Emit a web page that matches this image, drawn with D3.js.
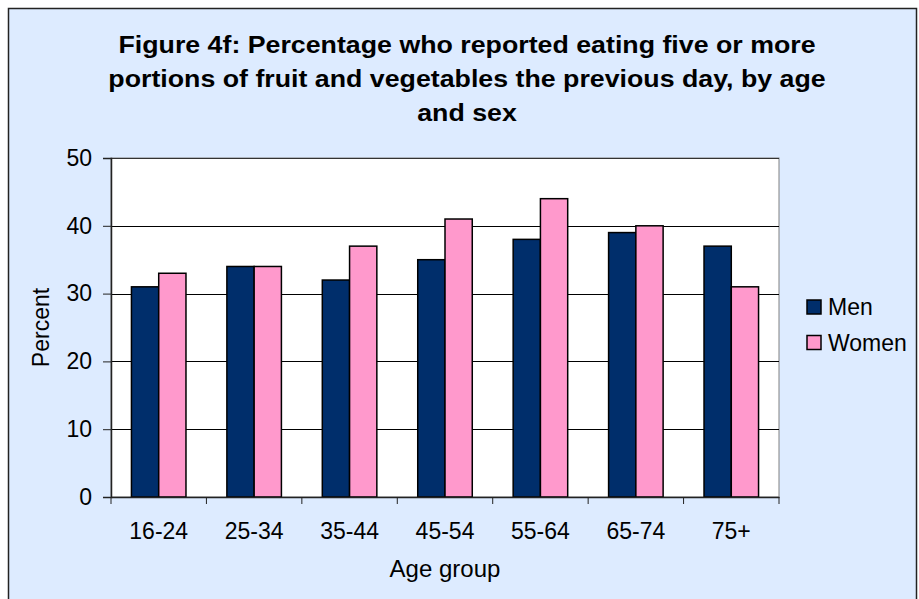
<!DOCTYPE html>
<html lang="en">
<head>
<meta charset="UTF-8">
<title>Figure 4f</title>
<script src="https://cdnjs.cloudflare.com/ajax/libs/d3/7.8.5/d3.min.js"></script>
<style>
  html, body { margin: 0; padding: 0; background: #fff; }
  svg { display: block; font-family: "Liberation Sans", Arial, sans-serif; }
</style>
</head>
<body>
<svg width="919" height="599"></svg>
<script>
    // data
    const ageGroups = ["16-24", "25-34", "35-44", "45-54", "55-64", "65-74", "75+"];
    const seriesNames = ["Men", "Women"];
    const men = [31, 34, 32, 35, 38, 39, 37];
    const women = [33, 34, 37, 41, 44, 40, 31];
    const yTicks = [0, 10, 20, 30, 40, 50];
    const titleLines = [
        "Figure 4f: Percentage who reported eating five or more",
        "portions of fruit and vegetables the previous day, by age",
        "and sex"
    ];

    const colors = { Men: "#002E6B", Women: "#FF99CC" };

    const svg = d3.select("svg");
    const plot = { left: 111, right: 779, top: 158, bottom: 497 };

    // chart background + border
    svg.append("rect")
        .attr("x", 8.5).attr("y", 8.5)
        .attr("width", 908).attr("height", 620)
        .attr("fill", "#DDEBFF")
        .attr("stroke", "#222").attr("stroke-width", 1.5);

    // title (source text is a bit wider than Liberation, so stretch it horizontally)
    const titleX = 467;
    svg.append("g")
        .attr("transform", `translate(${titleX},0) scale(1.115,1)`)
        .selectAll("text")
        .data(titleLines)
        .enter().append("text")
        .attr("x", 0)
        .attr("y", (d, i) => 53 + i * 34)
        .attr("text-anchor", "middle")
        .attr("font-size", 24)
        .attr("font-weight", "bold")
        .text(d => d);

    const x = d3.scaleBand()
        .domain(ageGroups)
        .range([plot.left, plot.right]);

    const inner = d3.scaleBand()
        .domain(seriesNames)
        .range([0, x.bandwidth()])
        .paddingInner(0)
        .paddingOuter(0.75);

    const y = d3.scaleLinear()
        .domain([0, 50])
        .range([plot.bottom, plot.top]);

    // plot area
    svg.append("rect")
        .attr("x", plot.left).attr("y", plot.top)
        .attr("width", plot.right - plot.left)
        .attr("height", plot.bottom - plot.top)
        .attr("fill", "#fff")
        .attr("stroke", "#808080").attr("stroke-width", 1);

    // gridlines
    svg.append("g")
        .selectAll("line")
        .data(yTicks.filter(d => d > 0))
        .enter().append("line")
        .attr("x1", plot.left).attr("x2", plot.right)
        .attr("y1", d => Math.round(y(d)) + 0.5)
        .attr("y2", d => Math.round(y(d)) + 0.5)
        .attr("stroke", d => d === 50 ? "#333" : "#000")
        .attr("stroke-width", 1);

    // bars
    const data = ageGroups.map((g, i) => ({ group: g, values: [
        { key: "Men", value: men[i] },
        { key: "Women", value: women[i] }
    ] }));

    svg.append("g")
        .selectAll("g")
        .data(data)
        .enter().append("g")
        .attr("transform", d => `translate(${x(d.group)},0)`)
        .selectAll("rect")
        .data(d => d.values)
        .enter().append("rect")
        .attr("x", d => inner(d.key))
        .attr("y", d => y(d.value))
        .attr("width", inner.bandwidth())
        .attr("height", d => y(0) - y(d.value))
        .attr("fill", d => colors[d.key])
        .attr("stroke", "#000")
        .attr("stroke-width", 1.5);

    // y axis
    const yAxis = svg.append("g")
        .attr("transform", `translate(${plot.left},0)`)
        .call(d3.axisLeft(y).tickValues(yTicks).tickSize(8).tickPadding(11));
    yAxis.select(".domain").attr("stroke", "#222").attr("stroke-width", 1.5);
    yAxis.selectAll(".tick line").attr("stroke", "#222");
    yAxis.selectAll("text").attr("font-size", 23).attr("fill", "#000")
        .attr("font-family", "Liberation Sans, Arial, sans-serif");

    // x axis
    const xAxis = svg.append("g")
        .attr("transform", `translate(0,${plot.bottom})`)
        .call(d3.axisBottom(x).tickSize(0).tickPadding(26));
    xAxis.select(".domain").attr("stroke", "#222").attr("stroke-width", 1.5);
    xAxis.selectAll("text").attr("font-size", 23).attr("fill", "#000")
        .attr("font-family", "Liberation Sans, Arial, sans-serif");

    // x ticks at category boundaries
    svg.append("g")
        .selectAll("line")
        .data(ageGroups.concat(["end"]))
        .enter().append("line")
        .attr("x1", (d, i) => plot.left + i * x.step())
        .attr("x2", (d, i) => plot.left + i * x.step())
        .attr("y1", plot.bottom).attr("y2", plot.bottom + 7)
        .attr("stroke", "#222");

    // axis titles
    svg.append("text")
        .attr("x", (plot.left + plot.right) / 2)
        .attr("y", 577)
        .attr("text-anchor", "middle")
        .attr("font-size", 24)
        .text("Age group");

    svg.append("text")
        .attr("transform", `translate(49,${(plot.top + plot.bottom) / 2}) rotate(-90)`)
        .attr("text-anchor", "middle")
        .attr("font-size", 23)
        .text("Percent");

    // legend
    const legend = svg.append("g")
        .selectAll("g")
        .data(seriesNames)
        .enter().append("g")
        .attr("transform", (d, i) => `translate(807,${300 + i * 35.5})`);
    legend.append("rect")
        .attr("width", 14).attr("height", 14)
        .attr("fill", d => colors[d])
        .attr("stroke", "#000").attr("stroke-width", 1.5);
    legend.append("text")
        .attr("x", 21).attr("y", 15)
        .attr("font-size", 23)
        .text(d => d);
</script>
</body>
</html>
